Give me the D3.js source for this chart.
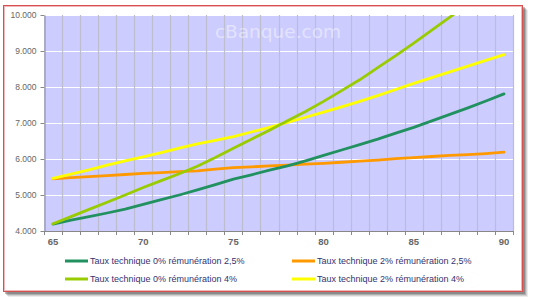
<!DOCTYPE html>
<html>
<head>
<meta charset="utf-8">
<script src="https://cdn.jsdelivr.net/npm/d3@7/dist/d3.min.js"></script>
<style>
body { margin: 0; background: #fff; }
svg { display: block; }
</style>
</head>
<body>
<div id="chart_div"></div>
<script>
// ages 65 -> 90
var years = d3.range(65, 91);
var y_ticks = [4000, 5000, 6000, 7000, 8000, 9000, 10000];
var x_labels = [65, 70, 75, 80, 85, 90];

var series_names = [
    "Taux technique 0% rémunération 2,5%",
    "Taux technique 2% rémunération 2,5%",
    "Taux technique 0% rémunération 4%",
    "Taux technique 2% rémunération 4%"
];
var series_colors = ["#229160", "#ff9900", "#99cc00", "#ffff00"];

var t0_r25 = [4190, 4300, 4400, 4500, 4610, 4740, 4870, 5000, 5140, 5290, 5440, 5560, 5690,
              5810, 5950, 6100, 6250, 6400, 6550, 6720, 6880, 7060, 7240, 7420, 7610, 7810];
var t2_r25 = [5450, 5480, 5510, 5540, 5570, 5600, 5620, 5650, 5670, 5720, 5760, 5780, 5810,
              5830, 5860, 5880, 5910, 5940, 5970, 6010, 6040, 6070, 6100, 6120, 6150, 6190];
var t0_r4  = [4200, 4400, 4600, 4800, 5000, 5210, 5400, 5590, 5800, 6040, 6300, 6550, 6800,
              7060, 7320, 7600, 7900, 8200, 8540, 8870, 9220, 9580, 9940, 10300, 10670, 11050];
var t2_r4  = [5460, 5580, 5700, 5830, 5950, 6060, 6180, 6300, 6420, 6520, 6620, 6750, 6880,
              7020, 7160, 7300, 7450, 7600, 7760, 7930, 8100, 8260, 8420, 8580, 8740, 8900];
var series_values = [t0_r25, t2_r25, t0_r4, t2_r4];

var chart_width = 533, chart_height = 297;
var plot = {left: 44, right: 513, top: 15, bottom: 231};

var chart = d3.select("#chart_div").append("svg")
    .attr("width", chart_width)
    .attr("height", chart_height);

// drop shadow + frame
var shadow = [0.10, 0.16, 0.24, 0.34];
shadow.forEach(function(o, i) {
    chart.append("rect")
        .attr("x", 3 + 5 - i).attr("y", 5 + 5 - i)
        .attr("width", 520).attr("height", 287)
        .attr("fill", "#444").attr("opacity", o);
});
chart.append("rect")
    .attr("x", 3.5).attr("y", 5.5)
    .attr("width", 519).attr("height", 286)
    .attr("fill", "#fff")
    .attr("stroke", "#d65050").attr("stroke-width", 1);
chart.append("rect")
    .attr("x", 4.5).attr("y", 6.5)
    .attr("width", 517).attr("height", 284)
    .attr("fill", "none")
    .attr("stroke", "#f0b8b8").attr("stroke-width", 1);

var x = d3.scaleBand().domain(years).range([plot.left, plot.right]).padding(0);
var y = d3.scaleLinear().domain([4000, 10000]).range([plot.bottom, plot.top]);
var xc = function(d) { return x(d) + x.bandwidth() / 2; };

var fmt = d3.formatLocale({decimal: ",", thousands: ".", grouping: [3], currency: ["", ""]}).format(",");

chart.append("rect")
    .attr("x", plot.left).attr("y", plot.top)
    .attr("width", plot.right - plot.left).attr("height", plot.bottom - plot.top)
    .attr("fill", "#ccccff");

// horizontal grid
chart.append("g").selectAll("line")
    .data(y_ticks.slice(1))
    .enter().append("line")
    .attr("x1", plot.left).attr("x2", plot.right)
    .attr("y1", function(d) { return Math.round(y(d)) + 0.5; })
    .attr("y2", function(d) { return Math.round(y(d)) + 0.5; })
    .attr("stroke", "#fff").attr("stroke-width", 1.2);

// vertical grid at category boundaries
var bounds = years.slice(1).map(function(d) { return x(d); }).concat([plot.right]);
chart.append("g").selectAll("line")
    .data(bounds)
    .enter().append("line")
    .attr("x1", function(d) { return Math.round(d) + 0.5; })
    .attr("x2", function(d) { return Math.round(d) + 0.5; })
    .attr("y1", plot.top).attr("y2", plot.bottom)
    .attr("stroke", "#bdbdd0").attr("stroke-width", 1.2);

// watermark
chart.append("text")
    .attr("x", 278).attr("y", 38)
    .attr("text-anchor", "middle")
    .attr("font-family", "Verdana, 'DejaVu Sans', sans-serif")
    .attr("font-size", 18.5)
    .attr("fill", "#fff").attr("opacity", 0.45)
    .text("cBanque.com");

// series
chart.append("clipPath").attr("id", "plot_clip")
    .append("rect")
    .attr("x", plot.left).attr("y", plot.top)
    .attr("width", plot.right - plot.left).attr("height", plot.bottom - plot.top);

var line = d3.line()
    .x(function(d, i) { return xc(years[i]); })
    .y(function(d) { return y(d); });

chart.append("g").attr("clip-path", "url(#plot_clip)")
    .selectAll("path")
    .data([1, 3, 0, 2]) // draw order
    .enter().append("path")
    .attr("d", function(k) { return line(series_values[k]); })
    .attr("fill", "none")
    .attr("stroke", function(k) { return series_colors[k]; })
    .attr("stroke-width", 2.8)
    .attr("stroke-linejoin", "round")
    .attr("stroke-linecap", "round");

// y axis
var y_axis = chart.append("g")
    .attr("transform", "translate(" + (plot.left + 0.5) + ",0)")
    .call(d3.axisLeft(y).tickValues(y_ticks).tickFormat(fmt).tickSize(4).tickSizeOuter(0));
y_axis.select(".domain").attr("stroke", "#888");
y_axis.selectAll(".tick line").attr("stroke", "#888");
y_axis.selectAll(".tick text")
    .attr("x", -8)
    .attr("font-family", "'Liberation Sans', Arial, sans-serif")
    .attr("font-size", 8.5)
    .attr("fill", "#666");

// x axis
chart.append("line")
    .attr("x1", plot.left).attr("x2", plot.right + 1)
    .attr("y1", plot.bottom + 0.5).attr("y2", plot.bottom + 0.5)
    .attr("stroke", "#888");
chart.append("g").selectAll("line")
    .data([plot.left].concat(bounds))
    .enter().append("line")
    .attr("x1", function(d) { return Math.round(d) + 0.5; })
    .attr("x2", function(d) { return Math.round(d) + 0.5; })
    .attr("y1", plot.bottom).attr("y2", plot.bottom + 4)
    .attr("stroke", "#888");
chart.append("g").selectAll("text")
    .data(x_labels)
    .enter().append("text")
    .attr("x", function(d) { return xc(d); })
    .attr("y", 245)
    .attr("text-anchor", "middle")
    .attr("font-family", "'Liberation Sans', Arial, sans-serif")
    .attr("font-size", 9.5)
    .attr("font-weight", "bold")
    .attr("fill", "#666")
    .text(function(d) { return d; });

// legend
var leg_x = [65, 292], leg_y = [261, 279];
var legend = chart.append("g").selectAll("g")
    .data(series_names)
    .enter().append("g")
    .attr("transform", function(d, i) {
        return "translate(" + leg_x[i % 2] + "," + leg_y[~~(i / 2)] + ")";
    });
legend.append("line")
    .attr("x1", 0).attr("x2", 23)
    .attr("stroke", function(d, i) { return series_colors[i]; })
    .attr("stroke-width", 3);
legend.append("text")
    .attr("x", 25).attr("y", 3)
    .attr("font-family", "'Liberation Sans', Arial, sans-serif")
    .attr("font-size", 9)
    .attr("fill", "#333370")
    .text(function(d) { return d; });
</script>
</body>
</html>
